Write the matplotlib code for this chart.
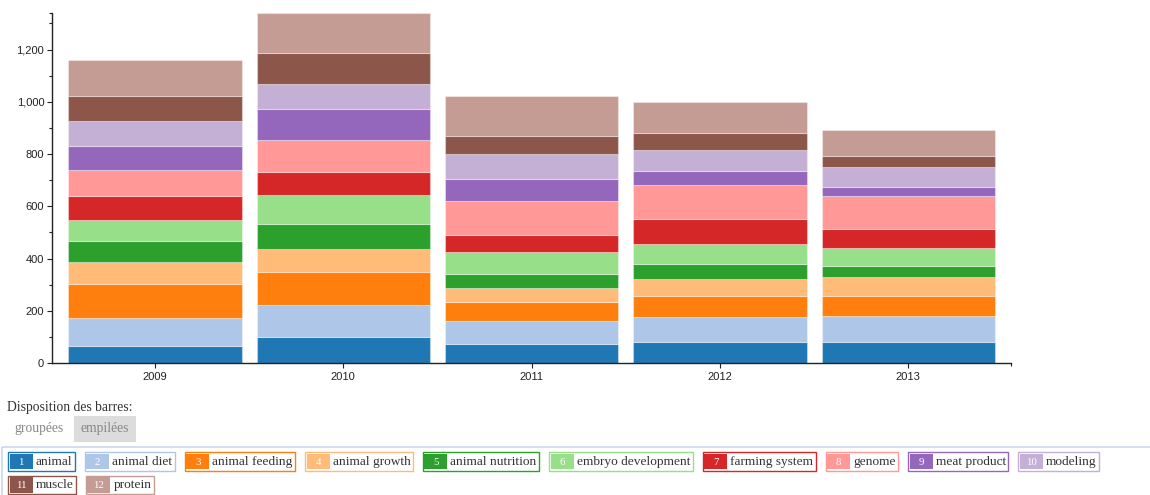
import matplotlib
matplotlib.use('Agg')
import matplotlib.pyplot as plt
from matplotlib.patches import Rectangle
from matplotlib.ticker import FixedLocator, FuncFormatter
import numpy as np

# données
years = ['2009', '2010', '2011', '2012', '2013']
categories = ['animal', 'animal diet', 'animal feeding', 'animal growth',
              'animal nutrition', 'embryo development', 'farming system',
              'genome', 'meat product', 'modeling', 'muscle', 'protein']

animal             = [67, 98, 74, 82, 79]
animal_diet        = [105, 125, 87, 94, 102]
animal_feeding     = [130, 127, 74, 79, 74]
animal_growth      = [86, 87, 51, 68, 73]
animal_nutrition   = [80, 94, 55, 55, 42]
embryo_development = [78, 114, 83, 78, 69]
farming_system     = [95, 88, 65, 95, 73]
genome             = [99, 122, 130, 131, 126]
meat_product       = [89, 116, 86, 54, 36]
modeling           = [98, 98, 94, 80, 77]
muscle             = [97, 118, 71, 66, 40]
protein            = [136, 153, 153, 119, 101]

series = [animal, animal_diet, animal_feeding, animal_growth, animal_nutrition,
          embryo_development, farming_system, genome, meat_product, modeling,
          muscle, protein]

colors = ['#1f77b4', '#aec7e8', '#ff7f0e', '#ffbb78', '#2ca02c', '#98df8a',
          '#d62728', '#ff9896', '#9467bd', '#c5b0d5', '#8c564b', '#c49c94']

W, H = 1150, 495
fig = plt.figure(figsize=(W / 100, H / 100), dpi=100)

# axe principal (positions en pixels)
left, right, top, bottom = 52, 1011, 13, 363
ax = fig.add_axes([left / W, 1 - bottom / H, (right - left) / W, (bottom - top) / H])

x = np.arange(len(years))
base = np.zeros(len(years))
for vals, col in zip(series, colors):
    ax.bar(x, vals, width=0.92, bottom=base, color=col,
           edgecolor=(1, 1, 1, 0.35), linewidth=0.8)
    base += np.array(vals)

ax.set_xlim(-0.547, 4.546)
ax.set_ylim(0, base.max())

for s in ['top', 'right']:
    ax.spines[s].set_visible(False)
for s in ['left', 'bottom']:
    ax.spines[s].set_linewidth(1.0)
    ax.spines[s].set_color('#222222')

ax.set_xticks(x)
ax.set_xticklabels(years)
ax.set_xticks([4.546], minor=True)
ax.yaxis.set_major_locator(FixedLocator(np.arange(0, 1300, 200)))
ax.yaxis.set_minor_locator(FixedLocator(list(range(100, 1400, 200)) + [base.max()]))
ax.yaxis.set_major_formatter(FuncFormatter(lambda v, p: '{:,.0f}'.format(v)))
ax.tick_params(axis='both', which='major', length=3.6, width=0.8, pad=2,
               labelsize=8, colors='#222222')
ax.tick_params(axis='both', which='minor', length=2.2, width=0.8, colors='#222222')
ax.tick_params(axis='x', which='major', pad=3)
for lab in ax.get_xticklabels() + ax.get_yticklabels():
    lab.set_fontfamily('Liberation Sans')

# zone de contrôles et légende en pixels
ov = fig.add_axes([0, 0, 1, 1])
ov.set_xlim(0, W)
ov.set_ylim(H, 0)
ov.axis('off')
serif = 'Liberation Serif'

ov.text(7, 408, 'Disposition des barres:', fontsize=9.8, family=serif,
        color='#333333', va='center', ha='left')
ov.text(14, 428.5, 'groupées', fontsize=9.8, family=serif, color='#888888',
        va='center', ha='left')
ov.add_patch(Rectangle((73.5, 415.5), 62, 26, facecolor='#dcdcdc', edgecolor='none'))
ov.text(104.5, 428.5, 'empilées', fontsize=9.8, family=serif, color='#888888',
        va='center', ha='center')

# cadre de la légende
ov.add_patch(Rectangle((2, 447), W + 10, 100, facecolor='none',
                       edgecolor='#c9d9ec', linewidth=1.2))

renderer = fig.canvas.get_renderer()
px, py = 8, 452.3
row_h, row_step, gap, max_w = 18.5, 23.5, 10, 1148
for i, (name, col) in enumerate(zip(categories, colors)):
    t = ov.text(0, 0, name, fontsize=9.6, family=serif, color='#333333',
                va='center', ha='left')
    tw = t.get_window_extent(renderer).width
    iw = 27.5 + tw + 2.5
    if px + iw > max_w:
        px = 8
        py += row_step
    t.set_position((px + 27.5, py + row_h / 2 + 0.3))
    ov.add_patch(Rectangle((px, py), iw, row_h, facecolor='white',
                           edgecolor=col, linewidth=1.0, zorder=1))
    ov.add_patch(Rectangle((px + 1.5, py + 1.5), 23, row_h - 3,
                           facecolor=col, edgecolor='none', zorder=2))
    ov.text(px + 13, py + row_h / 2 + 0.5, str(i + 1), fontsize=7.8, family=serif,
            color='white', va='center', ha='center', zorder=3)
    px += iw + gap

fig.savefig('out.png', dpi=100)
